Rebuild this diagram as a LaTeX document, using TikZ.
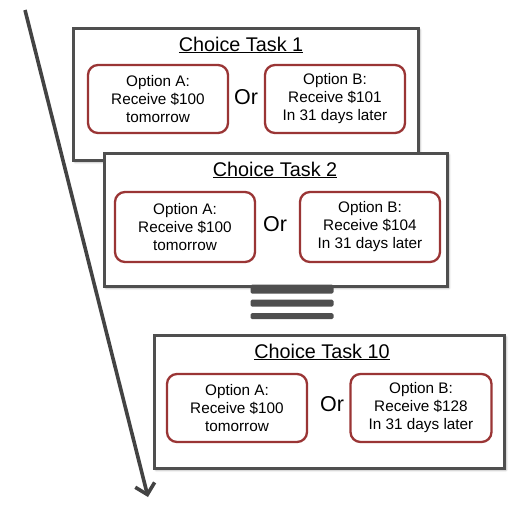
\documentclass[tikz,border=0pt]{standalone}
\usepackage{fontspec}
\setmainfont{Liberation Sans}
\usetikzlibrary{shadows.blur,arrows.meta}
\definecolor{frame}{HTML}{4F4F4F}
\definecolor{optred}{HTML}{9A3535}
\tikzset{
  taskbox/.style={draw=frame, line width=2.8pt, fill=white, blur shadow={shadow xshift=1.5pt, shadow yshift=-1.5pt, shadow blur steps=6, shadow opacity=45}},
  optbox/.style={draw=optred, line width=2.3pt, rounded corners=10pt, fill=white, align=center, inner sep=0pt, font=\fontsize{15.3}{18}\selectfont},
  ortext/.style={font=\fontsize{21.5}{22}\selectfont},
  titletext/.style={font=\fontsize{19.8}{22}\selectfont},
  bar/.style={fill=frame, rounded corners=1.5pt},
}
\begin{document}
\begin{tikzpicture}[x=1pt,y=-1pt]
\useasboundingbox (0,0) rectangle (531,509);
% arrow
\coordinate (astart) at (25,10);
\coordinate (aend) at (148,497);
\draw[line width=3.6pt, color=frame!85!black, -{Straight Barb[length=10pt,width=20pt,line width=3.6pt]}] (astart) -- (aend);
% task 1
\node[taskbox, minimum width=345pt, minimum height=132pt, anchor=north west] (t1) at (72,27) {};
\node[titletext] (t1title) at (241,45) {\underline{Choice Task 1}};
\node[optbox, minimum width=140pt, minimum height=68pt] (t1a) at (158,99) {Option A:\\Receive \$100\\tomorrow};
\node[ortext] (t1or) at (246,97) {Or};
\node[optbox, minimum width=140pt, minimum height=68pt] (t1b) at (335,99) {Option B:\\Receive \$101\\In 31 days later};
% task 2
\node[taskbox, minimum width=343pt, minimum height=133pt, anchor=north west] (t2) at (103,152) {};
\node[titletext] (t2title) at (275,170) {\underline{Choice Task 2}};
\node[optbox, minimum width=140pt, minimum height=70pt] (t2a) at (185,227) {Option A:\\Receive \$100\\tomorrow};
\node[ortext] (t2or) at (275,224) {Or};
\node[optbox, minimum width=140pt, minimum height=70pt] (t2b) at (370,227) {Option B:\\Receive \$104\\In 31 days later};
% bars
\node[bar, minimum width=83pt, minimum height=9pt, inner sep=0pt] (bar1) at (292,289) {};
\node[bar, minimum width=83pt, minimum height=7pt, inner sep=0pt] (bar2) at (292,303) {};
\node[bar, minimum width=83pt, minimum height=6pt, inner sep=0pt] (bar3) at (292,316) {};
% task 10
\node[taskbox, minimum width=350pt, minimum height=133pt, anchor=north west] (t3) at (153,334) {};
\node[titletext] (t3title) at (322,352) {\underline{Choice Task 10}};
\node[optbox, minimum width=140pt, minimum height=68pt] (t3a) at (237,408) {Option A:\\Receive \$100\\tomorrow};
\node[ortext] (t3or) at (332,404) {Or};
\node[optbox, minimum width=141pt, minimum height=68pt] (t3b) at (421,408) {Option B:\\Receive \$128\\In 31 days later};
\end{tikzpicture}
\end{document}
